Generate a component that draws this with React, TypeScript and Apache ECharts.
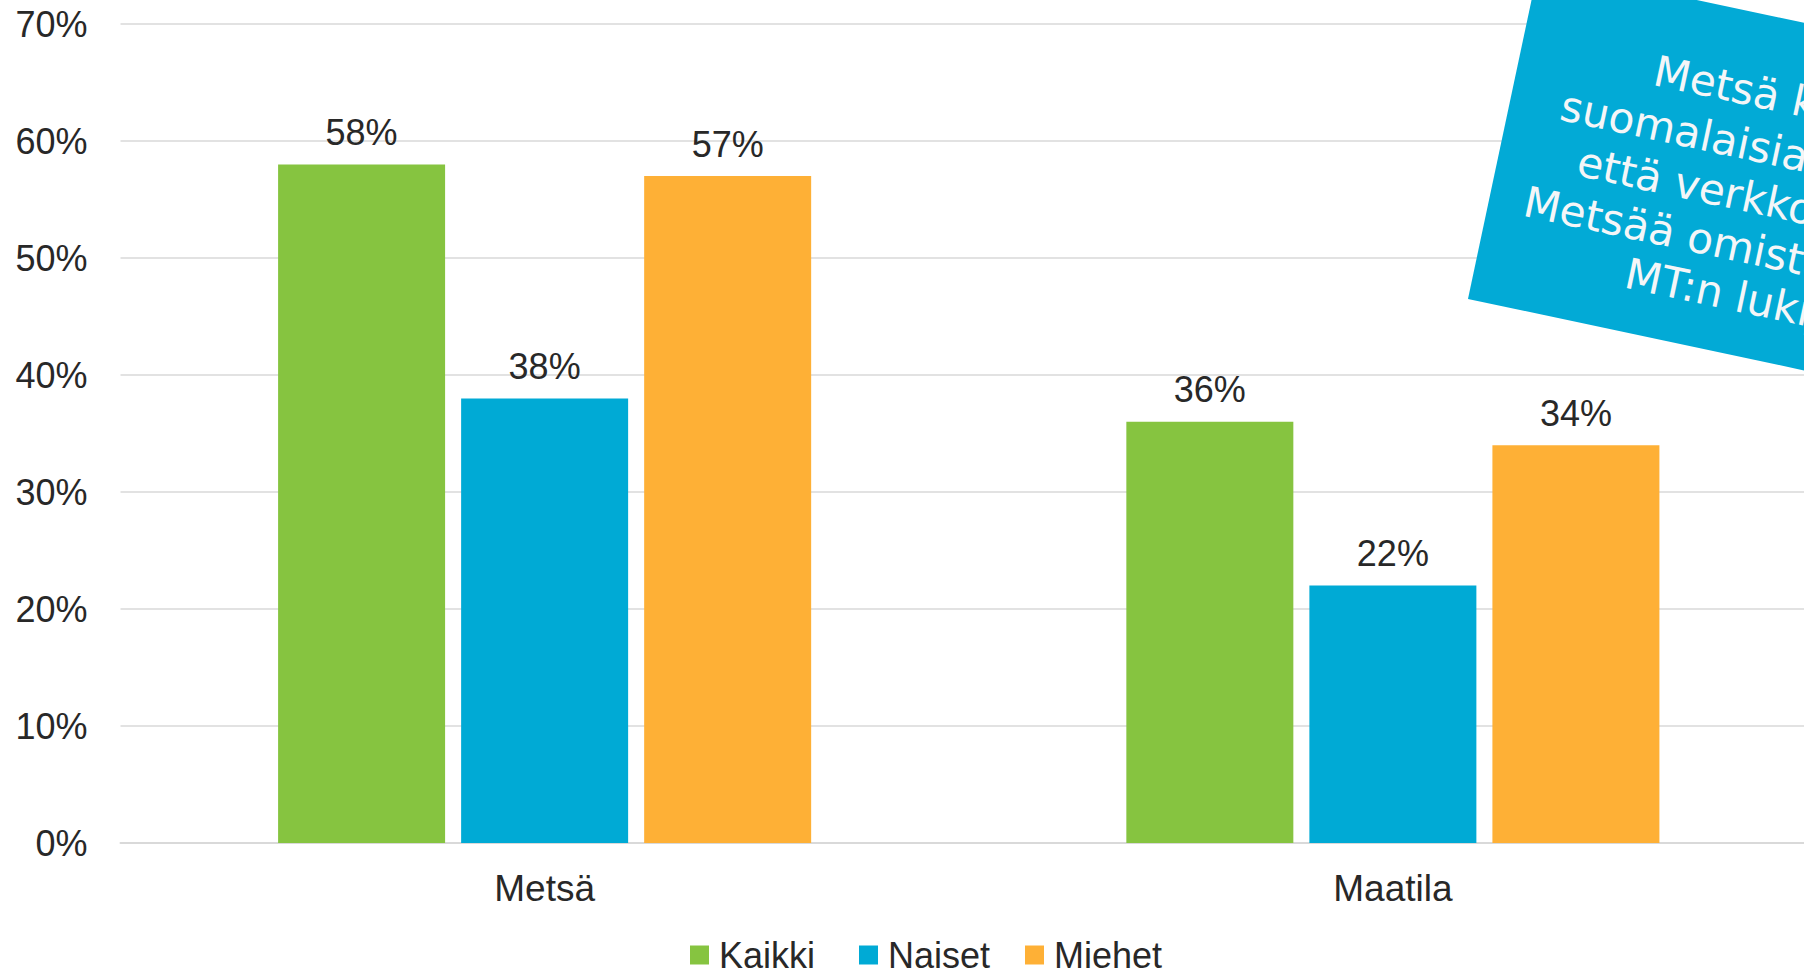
import React, { useEffect, useRef } from "react";
import * as echarts from "echarts";

const categories = ["Metsä", "Maatila"];
const seriesNames = ["Kaikki", "Naiset", "Miehet"];
const kaikki = [58, 36];
const naiset = [38, 22];
const miehet = [57, 34];
const seriesValues = [kaikki, naiset, miehet];
const seriesColors = ["#86C440", "#00AAD5", "#FEB036"];
const yMin = 0;
const yMax = 70;
const yInterval = 10;

const calloutLines = [
  "Metsä kiinnostaa",
  "suomalaisia enemmän kuin",
  "että verkkokauppa",
  "Metsää omistaa moni",
  "MT:n lukija",
];
const calloutStarts = [135, 51, 79, 35, 149];
const calloutBaselines = [92.5, 146, 197, 247.5, 296.5];

const legendLefts = [690, 859, 1025];

const FONT = '"Liberation Sans", Arial, sans-serif';
const TEXT = "#282828";
const CALLOUT_SIZE = 42.5;

export default function App() {
  const ref = useRef<HTMLDivElement>(null);
  useEffect(() => {
    if (!ref.current) return;
    const chart = echarts.init(ref.current, undefined, { renderer: "svg" });
    const option: any = {
      animation: false,
      backgroundColor: "#ffffff",
      grid: { left: 120.5, right: 0, top: 24, bottom: 127, containLabel: false },
      legend: seriesNames.map((n, i) => ({
        data: [n],
        left: legendLefts[i],
        top: 937,
        padding: 0,
        itemWidth: 19,
        itemHeight: 19,
        icon: "rect",
        selectedMode: false,
        textStyle: {
          fontFamily: FONT,
          fontSize: 36,
          color: TEXT,
          lineHeight: 30,
          padding: [0, 0, 0, 5],
        },
      })),
      xAxis: {
        type: "category",
        data: categories,
        axisTick: { show: false },
        axisLine: { show: true, lineStyle: { color: "#D9D9D9", width: 2 } },
        axisLabel: {
          fontFamily: FONT,
          fontSize: 37,
          color: TEXT,
          margin: 27,
          lineHeight: 37,
        },
      },
      yAxis: {
        type: "value",
        min: yMin,
        max: yMax,
        interval: yInterval,
        axisLine: { show: false },
        axisTick: { show: false },
        splitLine: { lineStyle: { color: "#D9D9D9", width: 1.5 } },
        axisLabel: {
          formatter: "{value}%",
          fontFamily: FONT,
          fontSize: 36,
          color: TEXT,
          margin: 33,
        },
      },
      series: seriesNames.map((n, i) => ({
        name: n,
        type: "bar",
        data: seriesValues[i],
        barWidth: 167,
        barGap: "9.6%",
        itemStyle: { color: seriesColors[i] },
        label: {
          show: true,
          position: "top",
          distance: 14,
          formatter: "{c}%",
          fontFamily: FONT,
          fontSize: 36,
          lineHeight: 36,
          color: TEXT,
        },
      })),
      graphic: {
        elements: [
          {
            type: "group",
            x: 1538.7,
            y: -33.6,
            rotation: (-12 * Math.PI) / 180,
            z: 100,
            zlevel: 1,
            children: [
              {
                type: "rect",
                z: 100,
                zlevel: 1,
                shape: { x: 0, y: 0, width: 660, height: 340 },
                style: { fill: "#02AAD6" },
              },
              ...calloutLines.map((t, i) => ({
                type: "text",
                z: 101,
                zlevel: 1,
                x: calloutStarts[i],
                y: calloutBaselines[i] - 0.346 * CALLOUT_SIZE,
                style: {
                  text: t,
                  fill: "#F4F6F8",
                  font: `${CALLOUT_SIZE}px "DejaVu Sans"`,
                  textAlign: "left",
                  textVerticalAlign: "middle",
                  align: "left",
                  verticalAlign: "middle",
                },
              })),
            ],
          },
        ],
      },
    };
    chart.setOption(option);
    return () => chart.dispose();
  }, []);
  return (
    <div
      style={{
        position: "fixed",
        left: 0,
        top: 0,
        width: 1804,
        height: 970,
        overflow: "hidden",
        background: "#ffffff",
      }}
    >
      <div ref={ref} style={{ width: 1816.5, height: 970 }} />
    </div>
  );
}
